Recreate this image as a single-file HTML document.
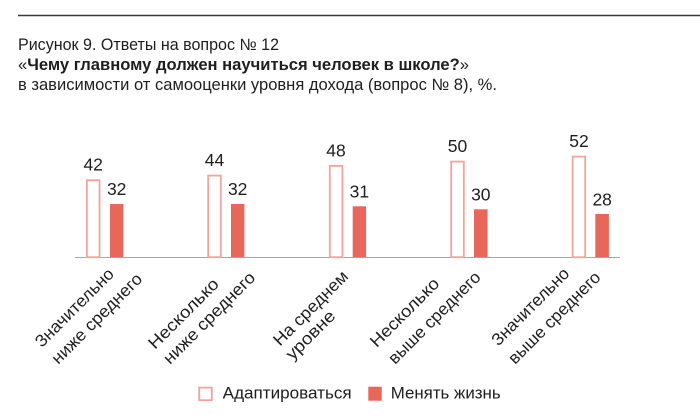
<!DOCTYPE html>
<html>
<head>
<meta charset="utf-8">
<style>
  html, body { margin:0; padding:0; background:#fff; }
  body { width:700px; height:420px; overflow:hidden; }
  svg { display:block; }
  text { font-family: "Liberation Sans", "DejaVu Sans", sans-serif; fill:#1e1e1e; }
</style>
</head>
<body>
<svg width="700" height="420" viewBox="0 0 700 420" xmlns="http://www.w3.org/2000/svg">
  <!-- top rule -->
  <line x1="18" y1="15.5" x2="700" y2="15.5" stroke="#3a3a3a" stroke-width="1.5"/>

  <!-- title -->
  <text x="18" y="50" font-size="16.3" textLength="261" lengthAdjust="spacingAndGlyphs">Рисунок 9. Ответы на вопрос № 12</text>
  <text x="18" y="70" font-size="16.3" textLength="451" lengthAdjust="spacingAndGlyphs">«<tspan font-weight="bold">Чему главному должен научиться человек в школе?</tspan>»</text>
  <text x="18" y="90" font-size="16.3" textLength="479" lengthAdjust="spacingAndGlyphs">в зависимости от самооценки уровня дохода (вопрос № 8), %.</text>

  <!-- axis -->
  <line x1="75" y1="257.5" x2="620" y2="257.5" stroke="#a6a6a6" stroke-width="1"/>

  <!-- bars: hollow -->
  <g fill="#fff" stroke="#f2a39c" stroke-width="1.8">
    <rect x="86.9" y="180.2" width="12.6" height="77"/>
    <rect x="208.2" y="175.6" width="12.6" height="81.6"/>
    <rect x="329.8" y="165.9" width="12.6" height="91.3"/>
    <rect x="451.2" y="161.6" width="12.6" height="95.6"/>
    <rect x="572.6" y="156.6" width="12.6" height="100.6"/>
  </g>
  <!-- bars: filled -->
  <g fill="#e8675b">
    <rect x="110" y="204" width="13.4" height="53"/>
    <rect x="231" y="204" width="13.4" height="53"/>
    <rect x="352.7" y="206.3" width="13.4" height="50.7"/>
    <rect x="474" y="209.3" width="13.6" height="47.7"/>
    <rect x="595.3" y="214" width="13.6" height="43"/>
  </g>

  <!-- value labels -->
  <g font-size="17.5" text-anchor="middle">
    <text x="93.2" y="170.7">42</text>
    <text x="116.7" y="195">32</text>
    <text x="214.5" y="166">44</text>
    <text x="237.7" y="195">32</text>
    <text x="336" y="156.3">48</text>
    <text x="359.4" y="197.5">31</text>
    <text x="457.5" y="152">50</text>
    <text x="480.8" y="200.5">30</text>
    <text x="579" y="147">52</text>
    <text x="602.2" y="205.3">28</text>
  </g>

  <!-- category labels (rotated) -->
  <g font-size="17">
    <text transform="translate(41.7,348.3) rotate(-45)" textLength="103.7" lengthAdjust="spacingAndGlyphs">Значительно</text>
    <text transform="translate(58.3,365) rotate(-45)" textLength="120.2" lengthAdjust="spacingAndGlyphs">ниже среднего</text>

    <text transform="translate(155,350) rotate(-45)" textLength="91.9" lengthAdjust="spacingAndGlyphs">Несколько</text>
    <text transform="translate(170,365) rotate(-45)" textLength="122" lengthAdjust="spacingAndGlyphs">ниже среднего</text>

    <text transform="translate(280,346.7) rotate(-45)" textLength="97.9" lengthAdjust="spacingAndGlyphs">На среднем</text>
    <text transform="translate(292.5,360.8) rotate(-45)" textLength="62" lengthAdjust="spacingAndGlyphs">уровне</text>

    <text transform="translate(376.7,348.3) rotate(-45)" textLength="90" lengthAdjust="spacingAndGlyphs">Несколько</text>
    <text transform="translate(395,365) rotate(-45)" textLength="122.6" lengthAdjust="spacingAndGlyphs">выше среднего</text>

    <text transform="translate(498.3,346.7) rotate(-45)" textLength="102" lengthAdjust="spacingAndGlyphs">Значительно</text>
    <text transform="translate(515,365) rotate(-45)" textLength="122.5" lengthAdjust="spacingAndGlyphs">выше среднего</text>
  </g>

  <!-- legend -->
  <rect x="199.2" y="387.6" width="12.6" height="12.6" fill="#fff" stroke="#f2a39c" stroke-width="1.8"/>
  <text x="222.7" y="398.3" font-size="17" textLength="129" lengthAdjust="spacingAndGlyphs">Адаптироваться</text>
  <rect x="368.3" y="386.7" width="13.4" height="14" fill="#e8675b"/>
  <text x="390.7" y="398.3" font-size="17" textLength="110" lengthAdjust="spacingAndGlyphs">Менять жизнь</text>
</svg>
</body>
</html>
